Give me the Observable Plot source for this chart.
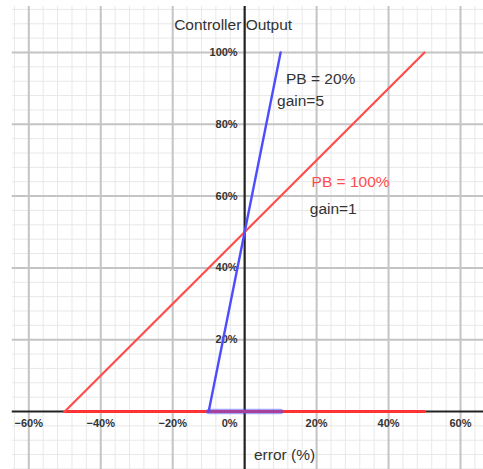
<!DOCTYPE html>
<html>
<head>
<meta charset="utf-8">
<script src="https://cdn.jsdelivr.net/npm/d3@7"></script>
<script src="https://cdn.jsdelivr.net/npm/@observablehq/plot@0.6"></script>
<style>
  html, body { margin: 0; padding: 0; background: #fff; }
  svg { display: block; }
</style>
</head>
<body>
<div id="chart"></div>
<script>
// Data (error %, controller output %)
const errorPB100 = [-50, 50];
const outputPB100 = [0, 100];
const errorPB20 = [-10, 10];
const outputPB20 = [0, 100];
const flatOutput = [0, 0];

// Tick labels
const xTickValues = [-60, -40, -20, 20, 40, 60];
const xTickLabels = ["−60%", "−40%", "−20%", "20%", "40%", "60%"];
const xZeroLabel = ["0%"];
const yTickValues = [20, 40, 60, 80, 100];
const yTickLabels = ["20%", "40%", "60%", "80%", "100%"];

// Grid
const xMajor = [-60, -40, -20, 20, 40, 60];
const yMajor = [20, 40, 60, 80, 100];
const xMinor = d3.range(-64, 65, 4);
const yMinor = d3.range(-16, 113, 4);
const xMin = -64.6, xMax = 66.6, yMin = -16.3, yMax = 112.8;

// Annotations
const notes = [
  {x: 11.5, y: 92.5, text: "PB = 20%", color: "#333"},
  {x: 9.0, y: 86.4, text: "gain=5", color: "#333"},
  {x: 18.6, y: 63.9, text: "PB = 100%", color: "#ff4d4d"},
  {x: 18.1, y: 56.4, text: "gain=1", color: "#333"}
];
const axisTitles = [
  {x: -19.6, y: 107.6, text: "Controller Output"},
  {x: 2.6, y: -12.0, text: "error (%)"}
];

const red = errorPB100.map((e, i) => ({x: e, y: outputPB100[i]}));
const redFlat = errorPB100.map((e, i) => ({x: e, y: flatOutput[i]}));
const blue = errorPB20.map((e, i) => ({x: e, y: outputPB20[i]}));
const blueFlat = errorPB20.map((e, i) => ({x: e, y: flatOutput[i]}));

const font = "Liberation Sans, Arial, sans-serif";

const chart = Plot.plot({
  width: 483,
  height: 469,
  marginLeft: 0, marginRight: 0, marginTop: 0, marginBottom: 0,
  style: {fontFamily: font, background: "#fff"},
  x: {domain: [-60, 60], range: [28.3, 460], axis: null},
  y: {domain: [0, 100], range: [411, 52], axis: null},
  marks: [
    Plot.ruleX(xMinor, {x: d => d, y1: yMin, y2: yMax, stroke: "#e8e8e8", strokeWidth: 1}),
    Plot.ruleY(yMinor, {y: d => d, x1: xMin, x2: xMax, stroke: "#e8e8e8", strokeWidth: 1}),
    Plot.ruleX(xMajor, {x: d => d, y1: yMin, y2: yMax, stroke: "#c4c4c4", strokeWidth: 2}),
    Plot.ruleY(yMajor, {y: d => d, x1: xMin, x2: xMax, stroke: "#c4c4c4", strokeWidth: 2}),
    Plot.ruleX([0], {y1: yMin, y2: yMax, stroke: "#222", strokeWidth: 2.2}),
    Plot.ruleY([0], {x1: xMin, x2: xMax, stroke: "#222", strokeWidth: 2.2}),
    Plot.text(xTickValues, {
      x: d => d, y: () => 0, text: (d, i) => xTickLabels[i],
      dy: 12, textAnchor: "middle", fontSize: 11, fontWeight: "bold", fill: "#333"
    }),
    Plot.text([0], {
      x: d => d, y: () => 0, text: (d, i) => xZeroLabel[i], dy: 12, dx: -7,
      textAnchor: "end", fontSize: 11, fontWeight: "bold", fill: "#333"
    }),
    Plot.text(yTickValues, {
      x: () => 0, y: d => d, text: (d, i) => yTickLabels[i],
      dx: -7, textAnchor: "end", fontSize: 11, fontWeight: "bold", fill: "#333"
    }),
    Plot.line(redFlat, {x: "x", y: "y", stroke: "#ff3333", strokeWidth: 3}),
    Plot.line(blueFlat, {x: "x", y: "y", stroke: "#4d4dff", strokeWidth: 5.5, strokeOpacity: 0.5}),
    Plot.line(red, {x: "x", y: "y", stroke: "#ff4d4d", strokeWidth: 2.2}),
    Plot.line(blue, {x: "x", y: "y", stroke: "#4d4dff", strokeWidth: 2.4}),
    Plot.text(notes, {
      x: "x", y: "y", text: "text", fill: "color",
      textAnchor: "start", fontSize: 15.5
    }),
    Plot.text(axisTitles, {
      x: "x", y: "y", text: "text", fill: "#333",
      textAnchor: "start", fontSize: 15.5
    })
  ]
});
document.getElementById("chart").appendChild(chart);
</script>
</body>
</html>
